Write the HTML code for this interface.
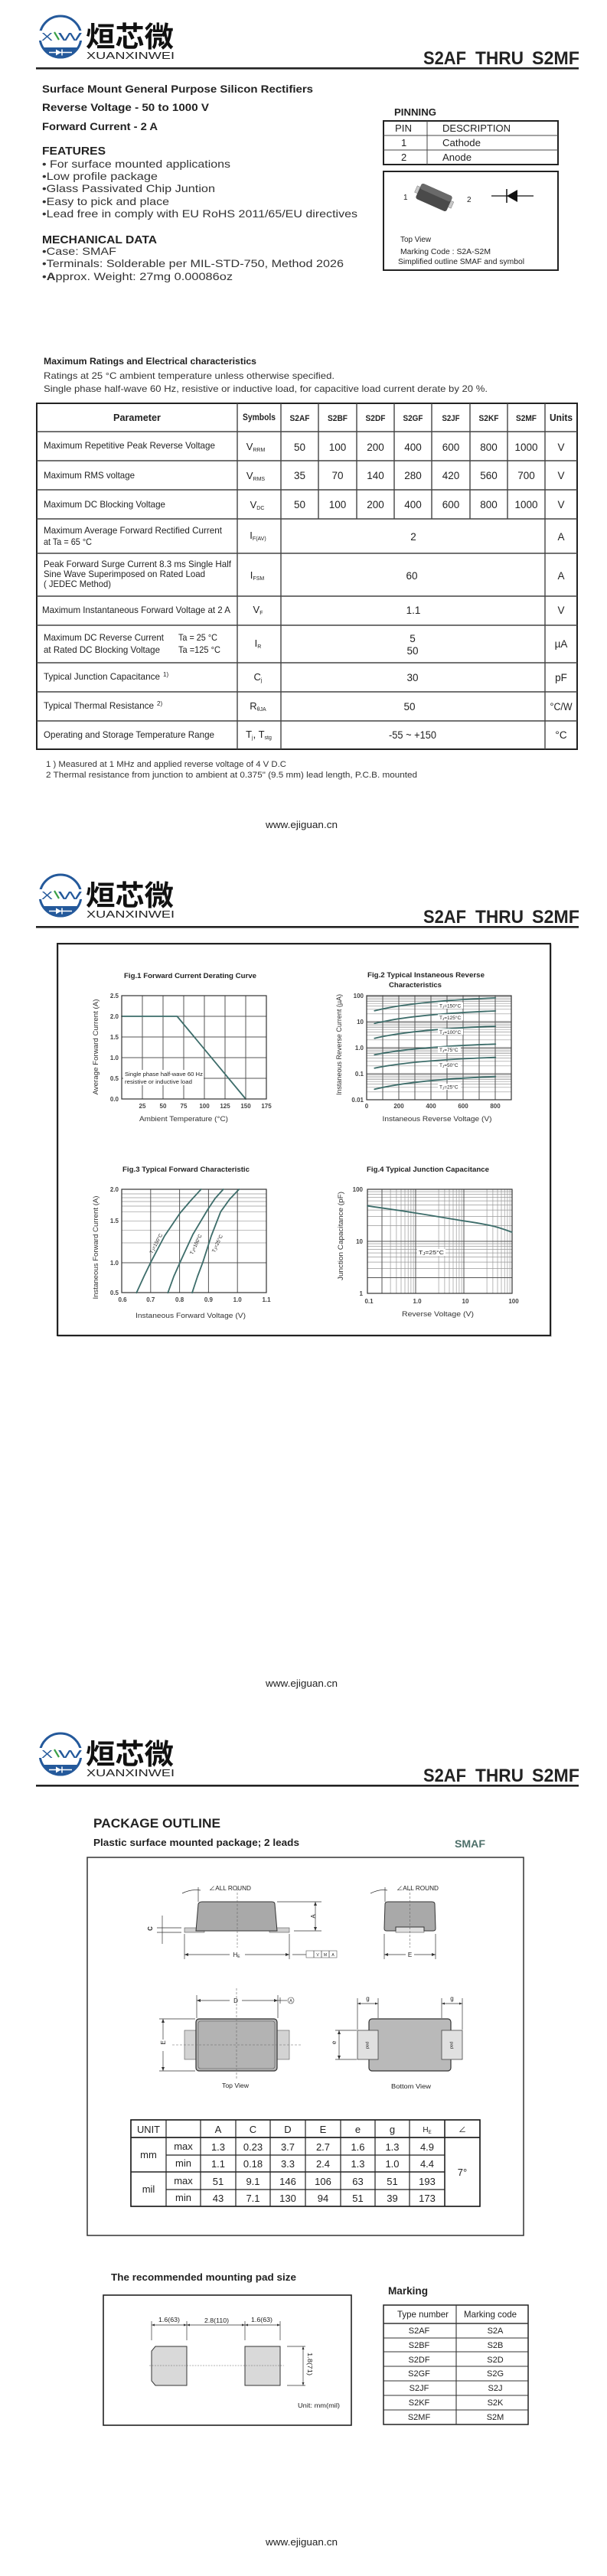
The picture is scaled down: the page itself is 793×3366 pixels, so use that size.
<!DOCTYPE html>
<html><head><meta charset="utf-8"><style>
html,body{margin:0;padding:0;background:#fff;width:793px;height:3366px;overflow:hidden}
svg{display:block}
text{font-family:"Liberation Sans","Noto Sans CJK SC",sans-serif;fill:#222}
.b{font-weight:bold}
.g{stroke:#999;stroke-width:0.7;fill:none}
.gd{stroke:#555;stroke-width:1;fill:none}
.ln{stroke:#333;stroke-width:1.2;fill:none}
.cv{stroke:#3d6d6a;stroke-width:1.8;fill:none;stroke-linejoin:round;stroke-linecap:round}
.tk{font-size:8px;font-weight:bold;fill:#444}
.ax{font-size:9.5px;fill:#333}
.lb{font-size:6.5px;fill:#222}
.tl{stroke:#444;stroke-width:1;fill:none}
.tm{stroke:#222;stroke-width:2;fill:none}
.dim{stroke:#333;stroke-width:0.7;fill:none}
.dsh{stroke:#666;stroke-width:0.6;stroke-dasharray:3,2;fill:none}
</style></head><body>
<svg xmlns="http://www.w3.org/2000/svg" width="793" height="3366" viewBox="0 0 793 3366">
<rect x="0" y="0" width="793" height="3366" fill="#fff"/>

<!-- ===== HEADERS ===== -->
<g transform="translate(0,0)">
  <circle cx="79" cy="48" r="27" fill="none" stroke="#24599b" stroke-width="3"/>
  <path d="M54.2 62 A28.5 28.5 0 0 0 103.8 62 Z" fill="#24599b"/>
  <line x1="64" y1="68.5" x2="94" y2="68.5" stroke="#fff" stroke-width="1.5"/>
  <polygon points="73,64.5 73,72.5 80,68.5" fill="#fff"/>
  <line x1="81" y1="64.5" x2="81" y2="72.5" stroke="#fff" stroke-width="1.5"/>
  <rect x="50" y="40" width="60" height="13" fill="#fff"/>
  <text x="54" y="53" font-size="15" textLength="15" lengthAdjust="spacingAndGlyphs" style="fill:#24599b">X</text>
  <line x1="71" y1="42" x2="77" y2="52" stroke="#3aa047" stroke-width="2.2"/>
  <text x="76" y="53" font-size="15" textLength="31" lengthAdjust="spacingAndGlyphs" style="fill:#24599b">W</text>
  <text x="112" y="61" font-size="37" class="b" textLength="115" lengthAdjust="spacingAndGlyphs" style="fill:#111">烜芯微</text>
  <text x="113" y="77" font-size="13" textLength="115" lengthAdjust="spacingAndGlyphs" style="fill:#222">XUANXINWEI</text>
  <text x="553" y="84" font-size="24" class="b" textLength="56" lengthAdjust="spacingAndGlyphs">S2AF</text>
  <text x="621" y="84" font-size="24" class="b" textLength="63" lengthAdjust="spacingAndGlyphs">THRU</text>
  <text x="695" y="84" font-size="24" class="b" textLength="62" lengthAdjust="spacingAndGlyphs">S2MF</text>
  <rect x="47" y="88" width="709" height="2.6" fill="#222"/>
</g>
<g transform="translate(0,1122)">
  <circle cx="79" cy="48" r="27" fill="none" stroke="#24599b" stroke-width="3"/>
  <path d="M54.2 62 A28.5 28.5 0 0 0 103.8 62 Z" fill="#24599b"/>
  <line x1="64" y1="68.5" x2="94" y2="68.5" stroke="#fff" stroke-width="1.5"/>
  <polygon points="73,64.5 73,72.5 80,68.5" fill="#fff"/>
  <line x1="81" y1="64.5" x2="81" y2="72.5" stroke="#fff" stroke-width="1.5"/>
  <rect x="50" y="40" width="60" height="13" fill="#fff"/>
  <text x="54" y="53" font-size="15" textLength="15" lengthAdjust="spacingAndGlyphs" style="fill:#24599b">X</text>
  <line x1="71" y1="42" x2="77" y2="52" stroke="#3aa047" stroke-width="2.2"/>
  <text x="76" y="53" font-size="15" textLength="31" lengthAdjust="spacingAndGlyphs" style="fill:#24599b">W</text>
  <text x="112" y="61" font-size="37" class="b" textLength="115" lengthAdjust="spacingAndGlyphs" style="fill:#111">烜芯微</text>
  <text x="113" y="77" font-size="13" textLength="115" lengthAdjust="spacingAndGlyphs" style="fill:#222">XUANXINWEI</text>
  <text x="553" y="84" font-size="24" class="b" textLength="56" lengthAdjust="spacingAndGlyphs">S2AF</text>
  <text x="621" y="84" font-size="24" class="b" textLength="63" lengthAdjust="spacingAndGlyphs">THRU</text>
  <text x="695" y="84" font-size="24" class="b" textLength="62" lengthAdjust="spacingAndGlyphs">S2MF</text>
  <rect x="47" y="88" width="709" height="2.6" fill="#222"/>
</g>
<g transform="translate(0,2244)">
  <circle cx="79" cy="48" r="27" fill="none" stroke="#24599b" stroke-width="3"/>
  <path d="M54.2 62 A28.5 28.5 0 0 0 103.8 62 Z" fill="#24599b"/>
  <line x1="64" y1="68.5" x2="94" y2="68.5" stroke="#fff" stroke-width="1.5"/>
  <polygon points="73,64.5 73,72.5 80,68.5" fill="#fff"/>
  <line x1="81" y1="64.5" x2="81" y2="72.5" stroke="#fff" stroke-width="1.5"/>
  <rect x="50" y="40" width="60" height="13" fill="#fff"/>
  <text x="54" y="53" font-size="15" textLength="15" lengthAdjust="spacingAndGlyphs" style="fill:#24599b">X</text>
  <line x1="71" y1="42" x2="77" y2="52" stroke="#3aa047" stroke-width="2.2"/>
  <text x="76" y="53" font-size="15" textLength="31" lengthAdjust="spacingAndGlyphs" style="fill:#24599b">W</text>
  <text x="112" y="61" font-size="37" class="b" textLength="115" lengthAdjust="spacingAndGlyphs" style="fill:#111">烜芯微</text>
  <text x="113" y="77" font-size="13" textLength="115" lengthAdjust="spacingAndGlyphs" style="fill:#222">XUANXINWEI</text>
  <text x="553" y="84" font-size="24" class="b" textLength="56" lengthAdjust="spacingAndGlyphs">S2AF</text>
  <text x="621" y="84" font-size="24" class="b" textLength="63" lengthAdjust="spacingAndGlyphs">THRU</text>
  <text x="695" y="84" font-size="24" class="b" textLength="62" lengthAdjust="spacingAndGlyphs">S2MF</text>
  <rect x="47" y="88" width="709" height="2.6" fill="#222"/>
</g>

<!-- ===== PAGE 1 ===== -->
<text x="55" y="121" font-size="14" class="b" textLength="354" lengthAdjust="spacingAndGlyphs">Surface Mount General Purpose Silicon Rectifiers</text>
<text x="55" y="145" font-size="14" class="b" textLength="218" lengthAdjust="spacingAndGlyphs">Reverse Voltage - 50 to 1000 V</text>
<text x="55" y="170" font-size="14" class="b" textLength="151" lengthAdjust="spacingAndGlyphs">Forward Current - 2 A</text>
<text x="55" y="202" font-size="15" class="b" textLength="83" lengthAdjust="spacingAndGlyphs">FEATURES</text>
<text x="55" y="219" font-size="14" textLength="246" lengthAdjust="spacingAndGlyphs" style="fill:#333">• For surface mounted applications</text>
<text x="55" y="235" font-size="14" textLength="151" lengthAdjust="spacingAndGlyphs" style="fill:#333">•Low profile package</text>
<text x="55" y="251" font-size="14" textLength="226" lengthAdjust="spacingAndGlyphs" style="fill:#333">•Glass Passivated Chip Juntion</text>
<text x="55" y="268" font-size="14" textLength="166" lengthAdjust="spacingAndGlyphs" style="fill:#333">•Easy to pick and place</text>
<text x="55" y="284" font-size="14" textLength="412" lengthAdjust="spacingAndGlyphs" style="fill:#333">•Lead free in comply with EU RoHS 2011/65/EU directives</text>
<text x="55" y="318" font-size="15" class="b" textLength="150" lengthAdjust="spacingAndGlyphs">MECHANICAL DATA</text>
<text x="55" y="333" font-size="14" textLength="97" lengthAdjust="spacingAndGlyphs" style="fill:#333">•Case: SMAF</text>
<text x="55" y="349" font-size="14" textLength="394" lengthAdjust="spacingAndGlyphs" style="fill:#333">•Terminals: Solderable per MIL-STD-750, Method 2026</text>
<text x="55" y="366" font-size="14" textLength="249" lengthAdjust="spacingAndGlyphs" style="fill:#333">•<tspan font-weight="bold">A</tspan>pprox. Weight: 27mg  0.00086oz</text>

<!-- pinning -->
<text x="515" y="151" font-size="13" class="b" textLength="55" lengthAdjust="spacingAndGlyphs">PINNING</text>
<rect x="501" y="158" width="228" height="57" class="tm"/>
<line x1="501" y1="177" x2="729" y2="177" class="tl" stroke-width="1.5"/>
<line x1="501" y1="196" x2="729" y2="196" class="tl" stroke-width="1.5"/>
<line x1="558" y1="158" x2="558" y2="215" class="tl" stroke-width="1.5"/>
<text x="516" y="172" font-size="13" textLength="22" lengthAdjust="spacingAndGlyphs">PIN</text>
<text x="578" y="172" font-size="13" textLength="89" lengthAdjust="spacingAndGlyphs">DESCRIPTION</text>
<text x="524" y="191" font-size="13">1</text>
<text x="578" y="191" font-size="13" textLength="50" lengthAdjust="spacingAndGlyphs">Cathode</text>
<text x="524" y="210" font-size="13">2</text>
<text x="578" y="210" font-size="13" textLength="38" lengthAdjust="spacingAndGlyphs">Anode</text>
<rect x="501" y="224" width="228" height="129" class="tm"/>
<g transform="rotate(24 567 258)">
  <rect x="541" y="253" width="6" height="9" fill="#c8c8c8" stroke="#777" stroke-width="0.5"/>
  <rect x="587" y="253" width="6" height="9" fill="#c8c8c8" stroke="#777" stroke-width="0.5"/>
  <rect x="545" y="247" width="44" height="22" rx="3" fill="#4a4a4a"/>
  <rect x="545" y="247" width="44" height="8" rx="3" fill="#6a6a6a"/>
</g>
<text x="527" y="261" font-size="10">1</text>
<text x="610" y="264" font-size="10">2</text>
<line x1="642" y1="256" x2="697" y2="256" stroke="#111" stroke-width="1.3"/>
<line x1="662" y1="247" x2="662" y2="265" stroke="#111" stroke-width="1.5"/>
<polygon points="662,256 676,248 676,264" fill="#111"/>
<text x="523" y="316" font-size="10" textLength="40" lengthAdjust="spacingAndGlyphs">Top View</text>
<text x="523" y="332" font-size="10" textLength="118" lengthAdjust="spacingAndGlyphs">Marking Code :  S2A-S2M</text>
<text x="520" y="345" font-size="10" textLength="165" lengthAdjust="spacingAndGlyphs">Simplified outline SMAF and symbol</text>

<!-- ratings -->
<text x="57" y="476" font-size="12" class="b" textLength="278" lengthAdjust="spacingAndGlyphs">Maximum Ratings and Electrical characteristics</text>
<text x="57" y="495" font-size="12" textLength="380" lengthAdjust="spacingAndGlyphs" style="fill:#333">Ratings at 25 °C ambient temperature unless otherwise specified.</text>
<text x="57" y="512" font-size="12" textLength="580" lengthAdjust="spacingAndGlyphs" style="fill:#333">Single phase half-wave 60 Hz, resistive or inductive load, for capacitive load current derate by 20 %.</text>

<rect x="48" y="527" width="706" height="452" fill="none" stroke="#222" stroke-width="2"/>
<g stroke="#444" stroke-width="1.4">
<line x1="48" y1="564" x2="754" y2="564"/><line x1="48" y1="602" x2="754" y2="602"/>
<line x1="48" y1="640" x2="754" y2="640"/><line x1="48" y1="678" x2="754" y2="678"/>
<line x1="48" y1="723" x2="754" y2="723"/><line x1="48" y1="779" x2="754" y2="779"/>
<line x1="48" y1="817" x2="754" y2="817"/><line x1="48" y1="866" x2="754" y2="866"/>
<line x1="48" y1="904" x2="754" y2="904"/><line x1="48" y1="942" x2="754" y2="942"/>
<line x1="310" y1="527" x2="310" y2="979"/><line x1="367" y1="527" x2="367" y2="979"/>
<line x1="712" y1="527" x2="712" y2="979"/>
<line x1="416" y1="527" x2="416" y2="678"/><line x1="466" y1="527" x2="466" y2="678"/>
<line x1="515" y1="527" x2="515" y2="678"/><line x1="564" y1="527" x2="564" y2="678"/>
<line x1="614" y1="527" x2="614" y2="678"/><line x1="663" y1="527" x2="663" y2="678"/>
</g>
<g font-size="13" class="b">
<text x="179" y="550" text-anchor="middle" class="b" textLength="62" lengthAdjust="spacingAndGlyphs">Parameter</text>
<text x="338.5" y="549" text-anchor="middle" class="b" font-size="12" textLength="43" lengthAdjust="spacingAndGlyphs">Symbols</text>
<text x="391.5" y="550" text-anchor="middle" class="b" font-size="11" textLength="26" lengthAdjust="spacingAndGlyphs">S2AF</text>
<text x="441" y="550" text-anchor="middle" class="b" font-size="11" textLength="26" lengthAdjust="spacingAndGlyphs">S2BF</text>
<text x="490.5" y="550" text-anchor="middle" class="b" font-size="11" textLength="26" lengthAdjust="spacingAndGlyphs">S2DF</text>
<text x="539.5" y="550" text-anchor="middle" class="b" font-size="11" textLength="26" lengthAdjust="spacingAndGlyphs">S2GF</text>
<text x="589" y="550" text-anchor="middle" class="b" font-size="11" textLength="23" lengthAdjust="spacingAndGlyphs">S2JF</text>
<text x="638.5" y="550" text-anchor="middle" class="b" font-size="11" textLength="26" lengthAdjust="spacingAndGlyphs">S2KF</text>
<text x="687.5" y="550" text-anchor="middle" class="b" font-size="11" textLength="27" lengthAdjust="spacingAndGlyphs">S2MF</text>
<text x="733" y="550" text-anchor="middle" class="b" textLength="30" lengthAdjust="spacingAndGlyphs">Units</text>
</g>
<g font-size="12" style="fill:#333">
<text x="57" y="586" textLength="224" lengthAdjust="spacingAndGlyphs">Maximum Repetitive Peak Reverse Voltage</text>
<text x="57" y="625" textLength="119" lengthAdjust="spacingAndGlyphs">Maximum RMS voltage</text>
<text x="57" y="663" textLength="159" lengthAdjust="spacingAndGlyphs">Maximum DC Blocking Voltage</text>
<text x="57" y="697" textLength="233" lengthAdjust="spacingAndGlyphs">Maximum Average Forward Rectified Current</text>
<text x="57" y="712" textLength="63" lengthAdjust="spacingAndGlyphs">at Ta = 65 °C</text>
<text x="57" y="741" textLength="245" lengthAdjust="spacingAndGlyphs">Peak Forward Surge Current 8.3 ms Single Half</text>
<text x="57" y="754" textLength="211" lengthAdjust="spacingAndGlyphs">Sine Wave Superimposed on Rated Load</text>
<text x="57" y="767" textLength="88" lengthAdjust="spacingAndGlyphs">( JEDEC Method)</text>
<text x="55" y="801" textLength="246" lengthAdjust="spacingAndGlyphs">Maximum Instantaneous Forward Voltage at 2 A</text>
<text x="57" y="837" textLength="157" lengthAdjust="spacingAndGlyphs">Maximum DC Reverse Current</text>
<text x="233" y="837" textLength="51" lengthAdjust="spacingAndGlyphs">Ta = 25 °C</text>
<text x="57" y="853" textLength="152" lengthAdjust="spacingAndGlyphs">at Rated DC Blocking Voltage</text>
<text x="233" y="853" textLength="55" lengthAdjust="spacingAndGlyphs">Ta =125 °C</text>
<text x="57" y="888" textLength="152" lengthAdjust="spacingAndGlyphs">Typical Junction Capacitance</text>
<text x="213" y="884" font-size="8">1)</text>
<text x="57" y="926" textLength="144" lengthAdjust="spacingAndGlyphs">Typical Thermal Resistance</text>
<text x="205" y="922" font-size="8">2)</text>
<text x="57" y="964" textLength="223" lengthAdjust="spacingAndGlyphs">Operating and Storage Temperature Range</text>
</g>
<g font-size="13" style="fill:#333" text-anchor="middle">
<text x="334" y="588">V<tspan font-size="7" dy="2">RRM</tspan></text>
<text x="334" y="626">V<tspan font-size="7" dy="2">RMS</tspan></text>
<text x="336" y="664">V<tspan font-size="7" dy="2">DC</tspan></text>
<text x="337" y="704">I<tspan font-size="7" dy="2">F(AV)</tspan></text>
<text x="336" y="756">I<tspan font-size="7" dy="2">FSM</tspan></text>
<text x="337" y="801">V<tspan font-size="7" dy="2">F</tspan></text>
<text x="337" y="845">I<tspan font-size="7" dy="2">R</tspan></text>
<text x="337" y="889">C<tspan font-size="7" dy="2">j</tspan></text>
<text x="337" y="927">R<tspan font-size="7" dy="2">θJA</tspan></text>
<text x="338" y="964">T<tspan font-size="7" dy="2">j</tspan><tspan dy="-2">, T</tspan><tspan font-size="7" dy="2">stg</tspan></text>
</g>
<g font-size="13.5" style="fill:#333" text-anchor="middle">
<text x="391.5" y="589">50</text><text x="441" y="589">100</text><text x="490.5" y="589">200</text><text x="539.5" y="589">400</text><text x="589" y="589">600</text><text x="638.5" y="589">800</text><text x="687.5" y="589">1000</text><text x="733" y="589">V</text>
<text x="391.5" y="626">35</text><text x="441" y="626">70</text><text x="490.5" y="626">140</text><text x="539.5" y="626">280</text><text x="589" y="626">420</text><text x="638.5" y="626">560</text><text x="687.5" y="626">700</text><text x="733" y="626">V</text>
<text x="391.5" y="664">50</text><text x="441" y="664">100</text><text x="490.5" y="664">200</text><text x="539.5" y="664">400</text><text x="589" y="664">600</text><text x="638.5" y="664">800</text><text x="687.5" y="664">1000</text><text x="733" y="664">V</text>
<text x="540" y="706">2</text><text x="733" y="706">A</text>
<text x="538" y="757">60</text><text x="733" y="757">A</text>
<text x="540" y="802">1.1</text><text x="733" y="802">V</text>
<text x="539" y="839">5</text><text x="539" y="855">50</text><text x="733" y="846">µA</text>
<text x="539" y="890">30</text><text x="733" y="890">pF</text>
<text x="535" y="928">50</text><text x="733" y="928" textLength="29" lengthAdjust="spacingAndGlyphs">°C/W</text>
<text x="539" y="965" textLength="62" lengthAdjust="spacingAndGlyphs">-55 ~ +150</text><text x="733" y="965">°C</text>
</g>
<text x="60" y="1002" font-size="11" textLength="314" lengthAdjust="spacingAndGlyphs" style="fill:#333">1 ) Measured at 1 MHz and applied reverse voltage of 4 V D.C</text>
<text x="60" y="1016" font-size="11" textLength="485" lengthAdjust="spacingAndGlyphs" style="fill:#333">2   Thermal resistance from junction to ambient at 0.375" (9.5 mm) lead length, P.C.B. mounted</text>
<text x="394" y="1082" font-size="13" text-anchor="middle" textLength="94" lengthAdjust="spacingAndGlyphs">www.ejiguan.cn</text>

<!-- ===== PAGE 2 ===== -->
<rect x="76" y="1234" width="644" height="512" fill="none" stroke="#bbb" stroke-width="1.5"/>
<rect x="75" y="1233" width="644" height="512" fill="none" stroke="#222" stroke-width="2"/>

<!-- Fig 1 -->
<text x="162" y="1278" font-size="9" class="b" textLength="173" lengthAdjust="spacingAndGlyphs">Fig.1  Forward Current Derating Curve</text>
<g class="gd" stroke="#888">
<line x1="186" y1="1301" x2="186" y2="1436"/><line x1="213" y1="1301" x2="213" y2="1436"/>
<line x1="240" y1="1301" x2="240" y2="1436"/><line x1="267" y1="1301" x2="267" y2="1436"/>
<line x1="294" y1="1301" x2="294" y2="1436"/><line x1="321" y1="1301" x2="321" y2="1436"/>
<line x1="159" y1="1328" x2="348" y2="1328"/><line x1="159" y1="1355" x2="348" y2="1355"/>
<line x1="159" y1="1382" x2="348" y2="1382"/><line x1="159" y1="1409" x2="348" y2="1409"/>
</g>
<rect x="161" y="1398" width="105" height="20" fill="#fff"/>
<polyline points="159,1328 231.4,1328 321,1436" class="cv"/>
<rect x="159" y="1301" width="189" height="135" class="ln"/>
<text x="163" y="1406" font-size="7" textLength="102" lengthAdjust="spacingAndGlyphs">Single phase half-wave 60 Hz</text>
<text x="163" y="1416" font-size="7" textLength="88" lengthAdjust="spacingAndGlyphs">resistive or inductive load</text>
<g class="tk" text-anchor="end">
<text x="155" y="1304" class="tk">2.5</text><text x="155" y="1331" class="tk">2.0</text><text x="155" y="1358" class="tk">1.5</text>
<text x="155" y="1385" class="tk">1.0</text><text x="155" y="1412" class="tk">0.5</text><text x="155" y="1439" class="tk">0.0</text>
</g>
<g text-anchor="middle">
<text x="186" y="1448" class="tk">25</text><text x="213" y="1448" class="tk">50</text><text x="240" y="1448" class="tk">75</text>
<text x="267" y="1448" class="tk">100</text><text x="294" y="1448" class="tk">125</text><text x="321" y="1448" class="tk">150</text><text x="348" y="1448" class="tk">175</text>
</g>
<text x="125" y="1371" class="ax" text-anchor="middle" transform="rotate(-90 125 1368)" textLength="125" lengthAdjust="spacingAndGlyphs">Average Forward Current (A)</text>
<text x="240" y="1465" class="ax" text-anchor="middle" textLength="116" lengthAdjust="spacingAndGlyphs">Ambient Temperature (°C)</text>

<!-- Fig 2 -->
<text x="480" y="1277" font-size="9" class="b" textLength="153" lengthAdjust="spacingAndGlyphs">Fig.2  Typical Instaneous Reverse</text>
<text x="508" y="1290" font-size="9" class="b" textLength="69" lengthAdjust="spacingAndGlyphs">Characteristics</text>
<g class="g">
<line x1="479" y1="1426.8" x2="668" y2="1426.8"/><line x1="479" y1="1420.8" x2="668" y2="1420.8"/><line x1="479" y1="1416.5" x2="668" y2="1416.5"/><line x1="479" y1="1413.2" x2="668" y2="1413.2"/><line x1="479" y1="1410.5" x2="668" y2="1410.5"/><line x1="479" y1="1408.3" x2="668" y2="1408.3"/><line x1="479" y1="1406.3" x2="668" y2="1406.3"/><line x1="479" y1="1404.6" x2="668" y2="1404.6"/>
<line x1="479" y1="1392.8" x2="668" y2="1392.8"/><line x1="479" y1="1386.8" x2="668" y2="1386.8"/><line x1="479" y1="1382.5" x2="668" y2="1382.5"/><line x1="479" y1="1379.2" x2="668" y2="1379.2"/><line x1="479" y1="1376.5" x2="668" y2="1376.5"/><line x1="479" y1="1374.3" x2="668" y2="1374.3"/><line x1="479" y1="1372.3" x2="668" y2="1372.3"/><line x1="479" y1="1370.6" x2="668" y2="1370.6"/>
<line x1="479" y1="1358.8" x2="668" y2="1358.8"/><line x1="479" y1="1352.8" x2="668" y2="1352.8"/><line x1="479" y1="1348.5" x2="668" y2="1348.5"/><line x1="479" y1="1345.2" x2="668" y2="1345.2"/><line x1="479" y1="1342.5" x2="668" y2="1342.5"/><line x1="479" y1="1340.3" x2="668" y2="1340.3"/><line x1="479" y1="1338.3" x2="668" y2="1338.3"/><line x1="479" y1="1336.6" x2="668" y2="1336.6"/>
<line x1="479" y1="1324.8" x2="668" y2="1324.8"/><line x1="479" y1="1318.8" x2="668" y2="1318.8"/><line x1="479" y1="1314.5" x2="668" y2="1314.5"/><line x1="479" y1="1311.2" x2="668" y2="1311.2"/><line x1="479" y1="1308.5" x2="668" y2="1308.5"/><line x1="479" y1="1306.3" x2="668" y2="1306.3"/><line x1="479" y1="1304.3" x2="668" y2="1304.3"/><line x1="479" y1="1302.6" x2="668" y2="1302.6"/>
</g>
<g class="gd">
<line x1="479" y1="1403" x2="668" y2="1403"/><line x1="479" y1="1369" x2="668" y2="1369"/><line x1="479" y1="1335" x2="668" y2="1335"/>
<line x1="500" y1="1301" x2="500" y2="1437"/><line x1="521" y1="1301" x2="521" y2="1437"/><line x1="542" y1="1301" x2="542" y2="1437"/>
<line x1="563" y1="1301" x2="563" y2="1437"/><line x1="584" y1="1301" x2="584" y2="1437"/><line x1="605" y1="1301" x2="605" y2="1437"/>
<line x1="626" y1="1301" x2="626" y2="1437"/><line x1="647" y1="1301" x2="647" y2="1437"/>
</g>
<rect x="479" y="1301" width="189" height="136" class="ln"/>
<path d="M489.3 1320.7 Q540 1308.2 647.3 1304" class="cv"/>
<path d="M489.3 1337.3 Q540 1325.1 647.3 1321" class="cv"/>
<path d="M489.3 1356.7 Q540 1344.9 647.3 1341" class="cv"/>
<path d="M489.3 1378.3 Q540 1367.8 647.3 1364.3" class="cv"/>
<path d="M489.3 1395.7 Q540 1385.2 647.3 1381.7" class="cv"/>
<path d="M489.3 1423.3 Q540 1410.9 647.3 1406.7" class="cv"/>
<g>
<rect x="572" y="1310" width="33" height="8" fill="#fff"/><text x="574" y="1316.5" class="lb">T<tspan font-size="4.5" dy="1">J</tspan><tspan dy="-1">=150°C</tspan></text>
<rect x="572" y="1325.3" width="33" height="8" fill="#fff"/><text x="574" y="1331.8" class="lb">T<tspan font-size="4.5" dy="1">J</tspan><tspan dy="-1">=125°C</tspan></text>
<rect x="572" y="1344.3" width="33" height="8" fill="#fff"/><text x="574" y="1350.8" class="lb">T<tspan font-size="4.5" dy="1">J</tspan><tspan dy="-1">=100°C</tspan></text>
<rect x="572" y="1367.7" width="30" height="8" fill="#fff"/><text x="574" y="1374.2" class="lb">T<tspan font-size="4.5" dy="1">J</tspan><tspan dy="-1">=75°C</tspan></text>
<rect x="572" y="1387.3" width="30" height="8" fill="#fff"/><text x="574" y="1393.8" class="lb">T<tspan font-size="4.5" dy="1">J</tspan><tspan dy="-1">=50°C</tspan></text>
<rect x="572" y="1416" width="30" height="8" fill="#fff"/><text x="574" y="1422.5" class="lb">T<tspan font-size="4.5" dy="1">J</tspan><tspan dy="-1">=25°C</tspan></text>
</g>
<g text-anchor="end">
<text x="475" y="1304" class="tk">100</text><text x="475" y="1338" class="tk">10</text><text x="475" y="1372" class="tk">1.0</text>
<text x="475" y="1406" class="tk">0.1</text><text x="475" y="1440" class="tk">0.01</text>
</g>
<g text-anchor="middle">
<text x="479" y="1448" class="tk">0</text><text x="521" y="1448" class="tk">200</text><text x="563" y="1448" class="tk">400</text>
<text x="605" y="1448" class="tk">600</text><text x="647" y="1448" class="tk">800</text>
</g>
<text x="443" y="1368" class="ax" text-anchor="middle" transform="rotate(-90 443 1365)" textLength="132" lengthAdjust="spacingAndGlyphs">Instaneous Reverse Current (µA)</text>
<text x="571" y="1465" class="ax" text-anchor="middle" textLength="143" lengthAdjust="spacingAndGlyphs">Instaneous Reverse Voltage (V)</text>

<!-- Fig 3 -->
<text x="160" y="1531" font-size="9" class="b" textLength="166" lengthAdjust="spacingAndGlyphs">Fig.3  Typical Forward Characteristic</text>
<g class="g" stroke="#888">
<line x1="159" y1="1560" x2="348" y2="1560"/><line x1="159" y1="1565" x2="348" y2="1565"/><line x1="159" y1="1570" x2="348" y2="1570"/>
<line x1="159" y1="1576" x2="348" y2="1576"/><line x1="159" y1="1583.3" x2="348" y2="1583.3"/><line x1="159" y1="1595.3" x2="348" y2="1595.3"/>
<line x1="159" y1="1607.3" x2="348" y2="1607.3"/><line x1="159" y1="1624" x2="348" y2="1624"/>
</g>
<g class="gd">
<line x1="159" y1="1650" x2="348" y2="1650"/>
<line x1="196.8" y1="1554" x2="196.8" y2="1689"/><line x1="234.6" y1="1554" x2="234.6" y2="1689"/>
<line x1="272.4" y1="1554" x2="272.4" y2="1689"/><line x1="310.2" y1="1554" x2="310.2" y2="1689"/>
</g>
<rect x="159" y="1554" width="189" height="135" class="ln"/>
<polyline points="178.3,1689.3 188,1668 197.3,1648.7 215,1615 235.3,1585 249,1569 262.7,1554" class="cv"/>
<polyline points="219.3,1689.3 227,1668 235.3,1649.3 252,1613 271.7,1580 281,1566 291.7,1554" class="cv"/>
<polyline points="251,1689.3 258,1668 265,1649.3 276,1615 288.3,1583.3 300,1567 312.3,1554" class="cv"/>
<text x="204" y="1627" class="lb" text-anchor="middle" transform="rotate(-62 204 1625)" font-size="7">T<tspan font-size="5" dy="1">J</tspan><tspan dy="-1">=150°C</tspan></text>
<text x="256" y="1628" class="lb" text-anchor="middle" transform="rotate(-65 256 1626)" font-size="7">T<tspan font-size="5" dy="1">J</tspan><tspan dy="-1">=100°C</tspan></text>
<text x="284" y="1627" class="lb" text-anchor="middle" transform="rotate(-65 284 1625)" font-size="7">T<tspan font-size="5" dy="1">J</tspan><tspan dy="-1">=25°C</tspan></text>
<g text-anchor="end">
<text x="155" y="1557" class="tk">2.0</text><text x="155" y="1598" class="tk">1.5</text>
<text x="155" y="1653" class="tk">1.0</text><text x="155" y="1692" class="tk">0.5</text>
</g>
<g text-anchor="middle">
<text x="160" y="1701" class="tk">0.6</text><text x="196.8" y="1701" class="tk">0.7</text><text x="234.6" y="1701" class="tk">0.8</text>
<text x="272.4" y="1701" class="tk">0.9</text><text x="310.2" y="1701" class="tk">1.0</text><text x="348" y="1701" class="tk">1.1</text>
</g>
<text x="125" y="1633" class="ax" text-anchor="middle" transform="rotate(-90 125 1630)" textLength="135" lengthAdjust="spacingAndGlyphs">Instaneous Forward Current  (A)</text>
<text x="249" y="1722" class="ax" text-anchor="middle" textLength="144" lengthAdjust="spacingAndGlyphs">Instaneous Forward Voltage (V)</text>

<!-- Fig 4 -->
<text x="479" y="1531" font-size="9" class="b" textLength="160" lengthAdjust="spacingAndGlyphs">Fig.4  Typical Junction Capacitance</text>
<g class="g" stroke="#888">
<line x1="510.1" y1="1554" x2="510.1" y2="1690"/><line x1="517.9" y1="1554" x2="517.9" y2="1690"/><line x1="524" y1="1554" x2="524" y2="1690"/><line x1="529" y1="1554" x2="529" y2="1690"/><line x1="533.2" y1="1554" x2="533.2" y2="1690"/><line x1="536.9" y1="1554" x2="536.9" y2="1690"/><line x1="540.1" y1="1554" x2="540.1" y2="1690"/>
<line x1="573.1" y1="1554" x2="573.1" y2="1690"/><line x1="580.9" y1="1554" x2="580.9" y2="1690"/><line x1="587" y1="1554" x2="587" y2="1690"/><line x1="592" y1="1554" x2="592" y2="1690"/><line x1="596.2" y1="1554" x2="596.2" y2="1690"/><line x1="599.9" y1="1554" x2="599.9" y2="1690"/><line x1="603.1" y1="1554" x2="603.1" y2="1690"/>
<line x1="636.1" y1="1554" x2="636.1" y2="1690"/><line x1="643.9" y1="1554" x2="643.9" y2="1690"/><line x1="650" y1="1554" x2="650" y2="1690"/><line x1="655" y1="1554" x2="655" y2="1690"/><line x1="659.2" y1="1554" x2="659.2" y2="1690"/><line x1="662.9" y1="1554" x2="662.9" y2="1690"/><line x1="666.1" y1="1554" x2="666.1" y2="1690"/>
<line x1="480" y1="1657.6" x2="669" y2="1657.6"/><line x1="480" y1="1649.1" x2="669" y2="1649.1"/><line x1="480" y1="1642.5" x2="669" y2="1642.5"/><line x1="480" y1="1637.1" x2="669" y2="1637.1"/><line x1="480" y1="1632.5" x2="669" y2="1632.5"/><line x1="480" y1="1628.6" x2="669" y2="1628.6"/><line x1="480" y1="1625.1" x2="669" y2="1625.1"/>
<line x1="480" y1="1601.5" x2="669" y2="1601.5"/><line x1="480" y1="1589.6" x2="669" y2="1589.6"/><line x1="480" y1="1581.1" x2="669" y2="1581.1"/><line x1="480" y1="1574.5" x2="669" y2="1574.5"/><line x1="480" y1="1569.1" x2="669" y2="1569.1"/><line x1="480" y1="1564.5" x2="669" y2="1564.5"/><line x1="480" y1="1560.6" x2="669" y2="1560.6"/><line x1="480" y1="1557.1" x2="669" y2="1557.1"/>
</g>
<g class="gd" stroke="#333">
<line x1="499" y1="1554" x2="499" y2="1690"/><line x1="543" y1="1554" x2="543" y2="1690"/><line x1="606" y1="1554" x2="606" y2="1690"/>
<line x1="480" y1="1622" x2="669" y2="1622"/><line x1="480" y1="1669.5" x2="669" y2="1669.5"/>
</g>
<rect x="480" y="1554" width="189" height="136" class="ln"/>
<path d="M480 1575.7 C510 1580 525 1582 542.7 1585 C575 1590 590 1593 605.7 1595.3 C625 1598 635 1600 646.7 1602.7 C655 1605 662 1607.5 668.7 1610" class="cv"/>
<rect x="545" y="1632" width="37" height="9" fill="#fff"/>
<text x="547" y="1639" font-size="7.5" textLength="33" lengthAdjust="spacingAndGlyphs">T<tspan font-size="5" dy="1">J</tspan><tspan dy="-1">=25°C</tspan></text>
<g text-anchor="end">
<text x="474" y="1557" class="tk">100</text><text x="474" y="1625" class="tk">10</text><text x="474" y="1693" class="tk">1</text>
</g>
<g text-anchor="middle">
<text x="482" y="1703" class="tk">0.1</text><text x="545" y="1703" class="tk">1.0</text><text x="608" y="1703" class="tk">10</text><text x="671" y="1703" class="tk">100</text>
</g>
<text x="445" y="1618" class="ax" text-anchor="middle" transform="rotate(-90 445 1615)" textLength="116" lengthAdjust="spacingAndGlyphs">Junction Capacitance (pF)</text>
<text x="572" y="1720" class="ax" text-anchor="middle" textLength="94" lengthAdjust="spacingAndGlyphs">Reverse  Voltage (V)</text>

<text x="394" y="2204" font-size="13" text-anchor="middle" textLength="94" lengthAdjust="spacingAndGlyphs">www.ejiguan.cn</text>

<!-- ===== PAGE 3 ===== -->
<text x="122" y="2388" font-size="17" class="b" textLength="166" lengthAdjust="spacingAndGlyphs">PACKAGE  OUTLINE</text>
<text x="122" y="2412" font-size="13" class="b" textLength="269" lengthAdjust="spacingAndGlyphs">Plastic surface mounted package; 2 leads</text>
<text x="594" y="2414" font-size="14" class="b" textLength="40" lengthAdjust="spacingAndGlyphs" style="fill:#4d6f69">SMAF</text>
<rect x="114" y="2427" width="570" height="494" fill="none" stroke="#333" stroke-width="1.5"/>

<!-- side view 1 -->
<rect x="241" y="2519" width="26" height="6" fill="#d0d0d0" stroke="#555" stroke-width="0.6"/>
<rect x="352" y="2519" width="26" height="6" fill="#d0d0d0" stroke="#555" stroke-width="0.6"/>
<path d="M256 2523 L259 2488 Q260 2485 264 2485 L355 2485 Q359 2485 359 2488 L362 2523 Z" fill="#a9a9a9" stroke="#333" stroke-width="1"/>
<line x1="310" y1="2468" x2="310" y2="2545" class="dsh"/>
<line x1="362" y1="2485" x2="420" y2="2485" class="dim"/><line x1="384" y1="2523" x2="420" y2="2523" class="dim"/>
<line x1="412" y1="2485" x2="412" y2="2523" class="dim"/>
<polygon points="412,2485 410,2490 414,2490" fill="#333"/><polygon points="412,2523 410,2518 414,2518" fill="#333"/>
<text x="409" y="2507" font-size="8" text-anchor="middle" transform="rotate(-90 409 2504)">A</text>
<line x1="205" y1="2519" x2="237" y2="2519" class="dim"/><line x1="205" y1="2525" x2="237" y2="2525" class="dim"/>
<line x1="212" y1="2503" x2="212" y2="2540" class="dim"/>
<text x="199" y="2526" font-size="8" class="b" text-anchor="middle" transform="rotate(-90 196 2523)">C</text>
<line x1="241" y1="2527" x2="241" y2="2560" class="dim"/><line x1="378" y1="2527" x2="378" y2="2560" class="dim"/>
<line x1="241" y1="2554" x2="300" y2="2554" class="dim"/><line x1="320" y1="2554" x2="378" y2="2554" class="dim"/>
<polygon points="241,2554 246,2552 246,2556" fill="#333"/><polygon points="378,2554 373,2552 373,2556" fill="#333"/>
<text x="309" y="2557" font-size="8" text-anchor="middle">H<tspan font-size="5" dy="1">E</tspan></text>
<line x1="382" y1="2554" x2="400" y2="2554" class="dim"/>
<rect x="400" y="2549" width="40" height="9" fill="#fff" stroke="#555" stroke-width="0.6"/>
<line x1="410" y1="2549" x2="410" y2="2558" class="dim"/><line x1="420" y1="2549" x2="420" y2="2558" class="dim"/><line x1="430" y1="2549" x2="430" y2="2558" class="dim"/>
<text x="415" y="2556" font-size="5" text-anchor="middle">V</text><text x="425" y="2556" font-size="5" text-anchor="middle">M</text><text x="435" y="2556" font-size="5" text-anchor="middle">A</text>
<path d="M238 2474 Q250 2468 262 2470" class="dim"/><line x1="259" y1="2466" x2="259" y2="2485" class="dim"/>
<text x="273" y="2470" font-size="8" textLength="55" lengthAdjust="spacingAndGlyphs">∠ALL ROUND</text>
<!-- side view 2 -->
<rect x="517" y="2518" width="37" height="7" fill="#e0e0e0" stroke="#555" stroke-width="0.6"/>
<path d="M502 2520 L503 2488 Q503 2485 507 2485 L564 2485 Q568 2485 568 2488 L569 2520 Q569 2523 566 2523 L554 2523 L554 2518 L517 2518 L517 2523 L505 2523 Q502 2523 502 2520 Z" fill="#a9a9a9" stroke="#333" stroke-width="1"/>
<line x1="535.5" y1="2468" x2="535.5" y2="2545" class="dsh"/>
<line x1="502" y1="2527" x2="502" y2="2560" class="dim"/><line x1="569" y1="2527" x2="569" y2="2560" class="dim"/>
<line x1="502" y1="2554" x2="530" y2="2554" class="dim"/><line x1="541" y1="2554" x2="569" y2="2554" class="dim"/>
<polygon points="502,2554 507,2552 507,2556" fill="#333"/><polygon points="569,2554 564,2552 564,2556" fill="#333"/>
<text x="535.5" y="2557" font-size="8" text-anchor="middle">E</text>
<path d="M484 2474 Q496 2468 506 2470" class="dim"/><line x1="503" y1="2466" x2="503" y2="2485" class="dim"/>
<text x="518" y="2470" font-size="8" textLength="55" lengthAdjust="spacingAndGlyphs">∠ALL ROUND</text>

<!-- top view -->
<rect x="241" y="2653" width="16" height="38" fill="#d3d3d3" stroke="#555" stroke-width="0.6"/>
<rect x="361" y="2653" width="17" height="38" fill="#d3d3d3" stroke="#555" stroke-width="0.6"/>
<rect x="256" y="2638" width="106" height="68" rx="4" fill="#b3b3b3" stroke="#333" stroke-width="1.2"/>
<rect x="259" y="2641" width="100" height="62" rx="3" fill="none" stroke="#555" stroke-width="0.6"/>
<line x1="309" y1="2598" x2="309" y2="2716" class="dsh"/><line x1="225" y1="2672" x2="395" y2="2672" class="dsh"/>
<line x1="257" y1="2607" x2="257" y2="2637" class="dim"/><line x1="363" y1="2607" x2="363" y2="2637" class="dim"/>
<line x1="257" y1="2614" x2="300" y2="2614" class="dim"/><line x1="316" y1="2614" x2="363" y2="2614" class="dim"/>
<polygon points="257,2614 262,2612 262,2616" fill="#333"/><polygon points="363,2614 358,2612 358,2616" fill="#333"/>
<text x="308" y="2617" font-size="8" text-anchor="middle">D</text>
<line x1="366" y1="2610" x2="366" y2="2618" class="dim"/><line x1="363" y1="2614" x2="375" y2="2614" class="dim"/>
<circle cx="380" cy="2614" r="4" fill="none" stroke="#333" stroke-width="0.6"/><text x="380" y="2616.5" font-size="6" text-anchor="middle">A</text>
<line x1="208" y1="2638" x2="255" y2="2638" class="dim"/><line x1="208" y1="2706" x2="255" y2="2706" class="dim"/>
<line x1="213" y1="2638" x2="213" y2="2665" class="dim"/><line x1="213" y1="2680" x2="213" y2="2706" class="dim"/>
<polygon points="213,2638 211,2643 215,2643" fill="#333"/><polygon points="213,2706 211,2701 215,2701" fill="#333"/>
<text x="216" y="2675" font-size="8" text-anchor="middle" transform="rotate(-90 213 2672)">E</text>
<text x="307.5" y="2728" font-size="8" text-anchor="middle" textLength="35" lengthAdjust="spacingAndGlyphs">Top View</text>
<!-- bottom view -->
<rect x="482" y="2638" width="107" height="68" rx="4" fill="#b9b9b9" stroke="#333" stroke-width="1.2"/>
<rect x="467" y="2653" width="27" height="38" fill="#e0e0e0" stroke="#444" stroke-width="0.8"/>
<rect x="577" y="2653" width="27" height="38" fill="#e0e0e0" stroke="#444" stroke-width="0.8"/>
<text x="481" y="2674" font-size="5.5" text-anchor="middle" transform="rotate(90 480.5 2672)">pad</text>
<text x="591" y="2674" font-size="5.5" text-anchor="middle" transform="rotate(90 590.5 2672)">pad</text>
<line x1="467" y1="2611" x2="467" y2="2652" class="dim"/><line x1="494" y1="2611" x2="494" y2="2637" class="dim"/>
<line x1="577" y1="2611" x2="577" y2="2637" class="dim"/><line x1="604" y1="2611" x2="604" y2="2652" class="dim"/>
<line x1="467" y1="2618" x2="494" y2="2618" class="dim"/><line x1="577" y1="2618" x2="604" y2="2618" class="dim"/>
<polygon points="467,2618 471,2616.5 471,2619.5" fill="#333"/><polygon points="494,2618 490,2616.5 490,2619.5" fill="#333"/>
<polygon points="577,2618 581,2616.5 581,2619.5" fill="#333"/><polygon points="604,2618 600,2616.5 600,2619.5" fill="#333"/>
<text x="480.5" y="2614" font-size="8" text-anchor="middle">g</text><text x="590.5" y="2614" font-size="8" text-anchor="middle">g</text>
<line x1="438" y1="2653" x2="466" y2="2653" class="dim"/><line x1="438" y1="2691" x2="466" y2="2691" class="dim"/>
<line x1="443" y1="2653" x2="443" y2="2691" class="dim"/>
<polygon points="443,2653 441,2658 445,2658" fill="#333"/><polygon points="443,2691 441,2686 445,2686" fill="#333"/>
<text x="439" y="2675" font-size="8" text-anchor="middle" transform="rotate(-90 436 2672)">e</text>
<text x="537" y="2729" font-size="8" text-anchor="middle" textLength="52" lengthAdjust="spacingAndGlyphs">Bottom  View</text>

<!-- dimension table -->
<rect x="171" y="2770" width="456" height="113" fill="none" stroke="#111" stroke-width="1.6"/>
<g stroke="#222" stroke-width="1.2">
<line x1="171" y1="2793" x2="627" y2="2793" stroke-width="1.8"/>
<line x1="217" y1="2816" x2="581" y2="2816"/>
<line x1="171" y1="2838" x2="581" y2="2838" stroke-width="1.6"/>
<line x1="217" y1="2861" x2="581" y2="2861"/>
<line x1="217" y1="2770" x2="217" y2="2883"/><line x1="262" y1="2770" x2="262" y2="2883"/>
<line x1="308" y1="2770" x2="308" y2="2883"/><line x1="353" y1="2770" x2="353" y2="2883"/>
<line x1="399" y1="2770" x2="399" y2="2883"/><line x1="445" y1="2770" x2="445" y2="2883"/>
<line x1="490" y1="2770" x2="490" y2="2883"/><line x1="535" y1="2770" x2="535" y2="2883"/>
<line x1="581" y1="2770" x2="581" y2="2883" stroke-width="1.6"/>
</g>
<g font-size="13" text-anchor="middle" style="fill:#222">
<text x="194" y="2787" textLength="30" lengthAdjust="spacingAndGlyphs">UNIT</text>
<text x="285" y="2787">A</text><text x="330.5" y="2787">C</text><text x="376" y="2787">D</text><text x="422" y="2787">E</text>
<text x="467.5" y="2787">e</text><text x="512.5" y="2787">g</text><text x="558" y="2786" font-size="10">H<tspan font-size="6" dy="2">E</tspan></text><text x="604" y="2786" font-size="10">∠</text>
<text x="194" y="2820">mm</text><text x="194" y="2865">mil</text>
<text x="239.5" y="2809">max</text><text x="239.5" y="2831">min</text><text x="239.5" y="2854">max</text><text x="239.5" y="2876">min</text>
<text x="285" y="2810">1.3</text><text x="330.5" y="2810">0.23</text><text x="376" y="2810">3.7</text><text x="422" y="2810">2.7</text><text x="467.5" y="2810">1.6</text><text x="512.5" y="2810">1.3</text><text x="558" y="2810">4.9</text>
<text x="285" y="2832">1.1</text><text x="330.5" y="2832">0.18</text><text x="376" y="2832">3.3</text><text x="422" y="2832">2.4</text><text x="467.5" y="2832">1.3</text><text x="512.5" y="2832">1.0</text><text x="558" y="2832">4.4</text>
<text x="285" y="2855">51</text><text x="330.5" y="2855">9.1</text><text x="376" y="2855">146</text><text x="422" y="2855">106</text><text x="467.5" y="2855">63</text><text x="512.5" y="2855">51</text><text x="558" y="2855">193</text>
<text x="285" y="2877">43</text><text x="330.5" y="2877">7.1</text><text x="376" y="2877">130</text><text x="422" y="2877">94</text><text x="467.5" y="2877">51</text><text x="512.5" y="2877">39</text><text x="558" y="2877">173</text>
<text x="604" y="2843">7°</text>
</g>

<!-- mounting pad -->
<text x="145" y="2980" font-size="13" class="b" textLength="242" lengthAdjust="spacingAndGlyphs">The recommended mounting pad size</text>
<text x="507" y="2998" font-size="14" class="b" textLength="52" lengthAdjust="spacingAndGlyphs">Marking</text>
<rect x="135" y="2999" width="324" height="170" fill="none" stroke="#222" stroke-width="1.6"/>
<polygon points="203,3066 244,3066 244,3117 203,3117 198,3111 198,3072" fill="#d9d9d9" stroke="#333" stroke-width="1"/>
<rect x="320" y="3066" width="46" height="51" fill="#d9d9d9" stroke="#333" stroke-width="1"/>
<line x1="195" y1="3091" x2="371" y2="3091" stroke="#666" stroke-width="0.5" stroke-dasharray="2,1.5"/>
<g class="dim">
<line x1="198" y1="3033" x2="198" y2="3058"/><line x1="244" y1="3033" x2="244" y2="3058"/>
<line x1="320" y1="3033" x2="320" y2="3058"/><line x1="366" y1="3033" x2="366" y2="3058"/>
<line x1="198" y1="3038" x2="366" y2="3038"/>
<line x1="375" y1="3066" x2="399" y2="3066"/><line x1="375" y1="3117" x2="399" y2="3117"/>
<line x1="396" y1="3066" x2="396" y2="3117"/>
</g>
<polygon points="198,3038 202,3036.5 202,3039.5" fill="#333"/><polygon points="244,3038 240,3036.5 240,3039.5" fill="#333"/>
<polygon points="244,3038 248,3036.5 248,3039.5" fill="#333"/><polygon points="320,3038 316,3036.5 316,3039.5" fill="#333"/>
<polygon points="320,3038 324,3036.5 324,3039.5" fill="#333"/><polygon points="366,3038 362,3036.5 362,3039.5" fill="#333"/>
<polygon points="396,3066 394.5,3070 397.5,3070" fill="#333"/><polygon points="396,3117 394.5,3113 397.5,3113" fill="#333"/>
<text x="221" y="3034" font-size="8" text-anchor="middle" textLength="28" lengthAdjust="spacingAndGlyphs">1.6(63)</text>
<text x="283" y="3035" font-size="8" text-anchor="middle" textLength="32" lengthAdjust="spacingAndGlyphs">2.8(110)</text>
<text x="342" y="3034" font-size="8" text-anchor="middle" textLength="28" lengthAdjust="spacingAndGlyphs">1.6(63)</text>
<text x="400" y="3091" font-size="8" text-anchor="middle" transform="rotate(90 402 3091)" textLength="30" lengthAdjust="spacingAndGlyphs">1.8(71)</text>
<text x="389" y="3146" font-size="8" textLength="55" lengthAdjust="spacingAndGlyphs">Unit: mm(mil)</text>

<!-- marking table -->
<rect x="501" y="3012" width="189" height="156" fill="none" stroke="#222" stroke-width="1.5"/>
<g stroke="#333" stroke-width="1.1">
<line x1="596" y1="3012" x2="596" y2="3168"/>
<line x1="501" y1="3036" x2="690" y2="3036" stroke-width="1.5"/>
<line x1="501" y1="3055" x2="690" y2="3055"/><line x1="501" y1="3073" x2="690" y2="3073"/>
<line x1="501" y1="3092" x2="690" y2="3092"/><line x1="501" y1="3111" x2="690" y2="3111"/>
<line x1="501" y1="3130" x2="690" y2="3130"/><line x1="501" y1="3149" x2="690" y2="3149"/>
</g>
<g font-size="11" text-anchor="middle" style="fill:#222">
<text x="552.5" y="3028" font-size="12" textLength="67" lengthAdjust="spacingAndGlyphs">Type number</text>
<text x="640.5" y="3028" font-size="12" textLength="69" lengthAdjust="spacingAndGlyphs">Marking code</text>
<text x="547.5" y="3049">S2AF</text><text x="647" y="3049">S2A</text>
<text x="547.5" y="3068">S2BF</text><text x="647" y="3068">S2B</text>
<text x="547.5" y="3087">S2DF</text><text x="647" y="3087">S2D</text>
<text x="547.5" y="3105">S2GF</text><text x="647" y="3105">S2G</text>
<text x="547.5" y="3124">S2JF</text><text x="647" y="3124">S2J</text>
<text x="547.5" y="3143">S2KF</text><text x="647" y="3143">S2K</text>
<text x="547.5" y="3162">S2MF</text><text x="647" y="3162">S2M</text>
</g>

<text x="394" y="3326" font-size="13" text-anchor="middle" textLength="94" lengthAdjust="spacingAndGlyphs">www.ejiguan.cn</text>
</svg>
</body></html>
